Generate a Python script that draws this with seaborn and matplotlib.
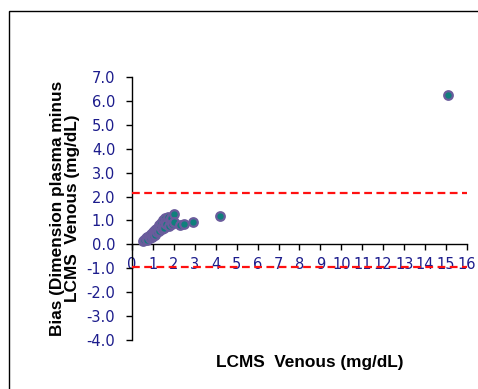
import matplotlib
matplotlib.use("Agg")
import matplotlib.pyplot as plt
from matplotlib.patches import Rectangle
import seaborn as sns
import pandas as pd

# LCMS venous concentration (mg/dL) and bias (Dimension plasma minus LCMS venous)
lcms_venous = [0.55, 0.6, 0.65, 0.7, 0.72, 0.8, 0.85, 0.9, 0.95, 1.0, 1.0, 1.05,
               1.1, 1.1, 1.15, 1.2, 1.25, 1.3, 1.3, 1.35, 1.4, 1.45, 1.5, 1.5,
               1.55, 1.6, 1.6, 1.65, 1.7, 1.75, 1.8, 1.85, 1.9, 2.0, 2.0,
               2.3, 2.5, 2.9, 4.2, 15.1]
bias = [0.15, 0.2, 0.25, 0.3, 0.18, 0.35, 0.25, 0.42, 0.3, 0.5, 0.35, 0.55,
        0.6, 0.4, 0.65, 0.5, 0.7, 0.8, 0.55, 0.75, 0.9, 0.65, 1.0, 0.8,
        0.7, 1.1, 0.95, 0.85, 1.15, 0.75, 1.0, 1.1, 0.85, 1.27, 0.92,
        0.8, 0.87, 0.92, 1.18, 6.25]
upper_limit = 2.16
lower_limit = -0.93

x_ticks = list(range(0, 17))
y_ticks = [-4, -3, -2, -1, 0, 1, 2, 3, 4, 5, 6, 7]

df = pd.DataFrame({"lcms": lcms_venous, "bias": bias})

sns.set_style("white")
plt.rcParams["font.family"] = ["Liberation Sans", "DejaVu Sans"]

fig = plt.figure(figsize=(4.78, 3.89), dpi=100)
ax = fig.add_axes([0.276, 0.126, 0.701, 0.676])

# outer chart frame
fig.patches.append(Rectangle((9 / 478, -0.05), 1.2, 1 - 11 / 389 + 0.05,
                             transform=fig.transFigure, fill=False,
                             edgecolor="black", linewidth=1.0))

sns.scatterplot(data=df, x="lcms", y="bias", ax=ax, s=38, color="#0f7f7c",
                edgecolor="#6a5c9c", linewidth=1.6, zorder=3, legend=False)

for lim in (upper_limit, lower_limit):
    ax.plot([0, 16], [lim, lim], color="#ff1010", linewidth=1.6,
            dashes=(3.5, 2.0), zorder=4)

ax.set_xlim(0, 16)
ax.set_ylim(-4, 7)
ax.set_xticks(x_ticks)
ax.set_xticklabels([str(t) for t in x_ticks])
ax.set_yticks(y_ticks)
ax.set_yticklabels([f"{t:.1f}" for t in y_ticks])

for side in ("top", "right"):
    ax.spines[side].set_visible(False)
ax.spines["bottom"].set_position(("data", 0))
for side in ("left", "bottom"):
    ax.spines[side].set_color("black")
    ax.spines[side].set_linewidth(1.0)

ax.tick_params(axis="both", which="major", direction="out", length=4,
               width=1.0, color="black", labelcolor="#1c1c8c")
ax.tick_params(axis="x", pad=5)
ax.tick_params(axis="y", pad=8)
for lbl in ax.get_xticklabels() + ax.get_yticklabels():
    lbl.set_fontfamily("DejaVu Sans")
    lbl.set_fontsize(10.5)
ax.xaxis.set_ticks_position("bottom")
ax.yaxis.set_ticks_position("left")

ax.set_xlabel("")
ax.set_ylabel("")
fig.text(65 / 478, 1 - 208 / 389, "Bias (Dimension plasma minus\nLCMS  Venous (mg/dL)",
         fontsize=12.4, fontweight="bold", color="black", rotation=90,
         ha="center", va="center", multialignment="center", linespacing=1.05)
fig.text(310 / 478, 1 - 363 / 389, "LCMS  Venous (mg/dL)", fontsize=12.4,
         fontweight="bold", color="black", ha="center", va="center")

fig.savefig("out.png", dpi=100)
